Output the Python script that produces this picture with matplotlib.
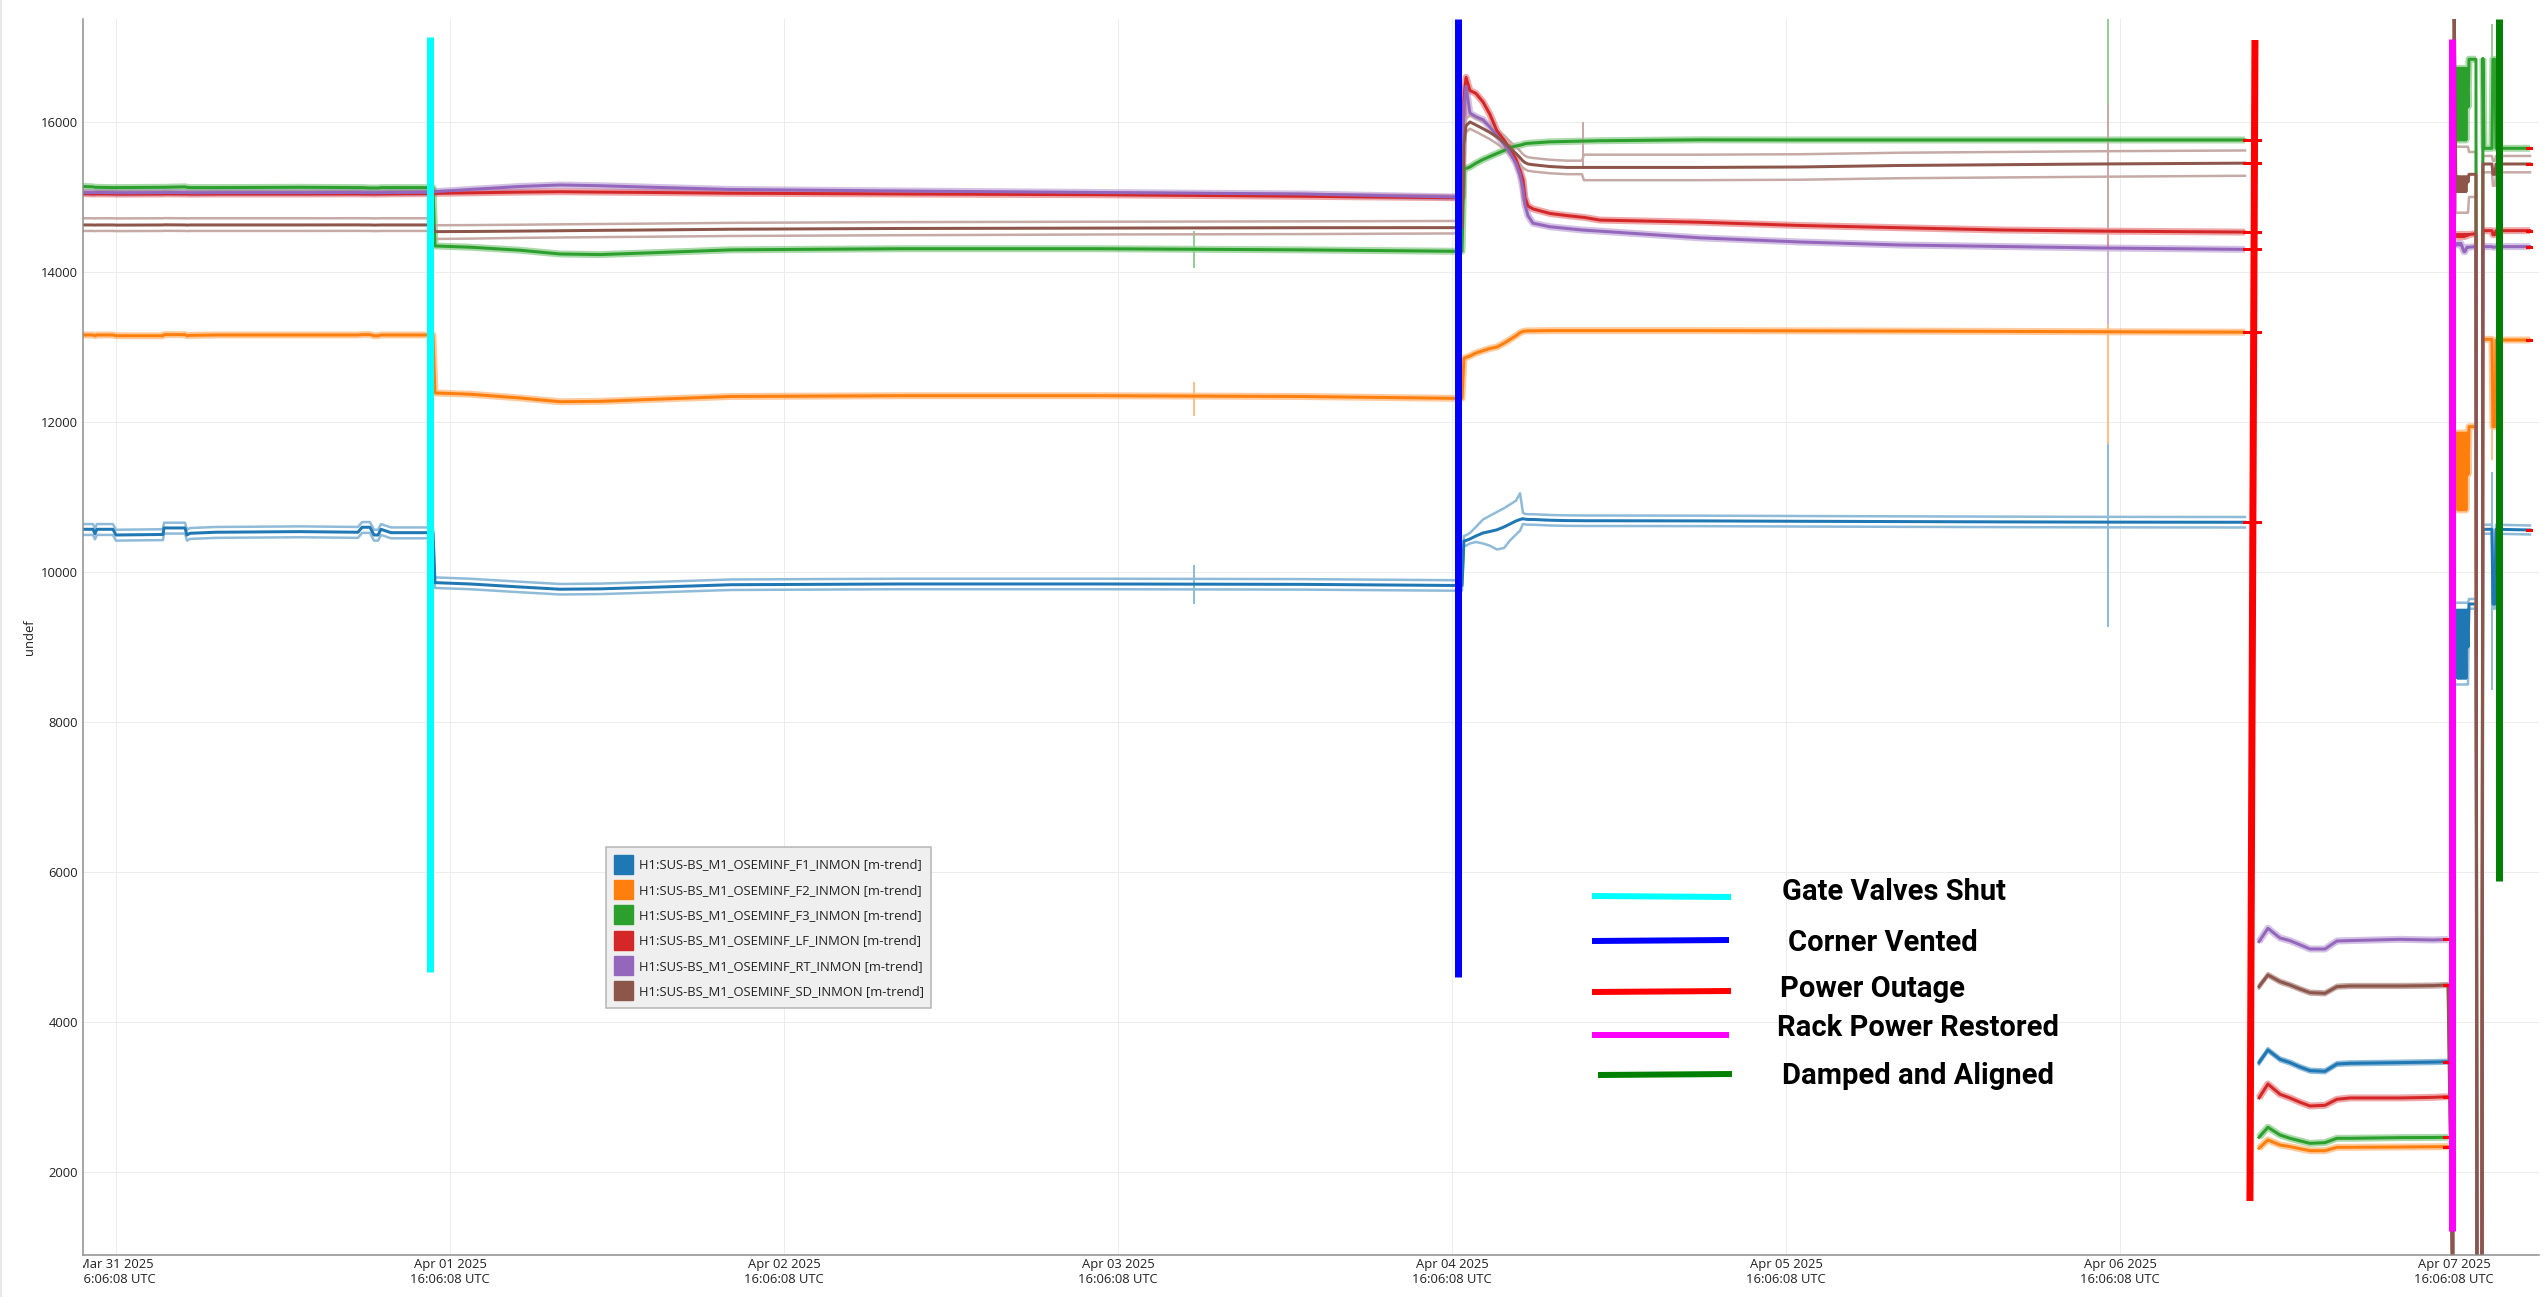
import numpy as np
import matplotlib
matplotlib.use("Agg")
import matplotlib.pyplot as plt
from matplotlib.patches import Patch, Rectangle
from matplotlib.lines import Line2D
from matplotlib.transforms import Bbox, TransformedBbox

nan = float("nan")

# ---------------- data (time in hours after Mar 31 2025 16:06:08 UTC) ----------------
hours = [-2.37, -1.65, -1.51, -1.37, -0.22, 0.00, 3.38, 3.45, 4.96, 5.10, 5.32, 7.19, 13.22, 17.39, 17.68,
         18.25, 18.54, 18.83, 19.04, 19.76, 22.42, 22.78,
         22.92, 25.44, 29.03, 31.90, 34.78, 38.37, 44.19, 56.33, 70.71, 85.08, 96.21, 96.72,
         96.86, 97.01, 97.29, 97.72, 98.23, 98.73, 99.23, 99.74, 100.17, 100.60, 100.89, 101.10, 101.24,
         101.46, 101.82, 103.04, 104.26, 105.34, 105.48, 106.63, 113.82, 121.01, 128.19, 135.38, 142.56, 152.98,
         153.50,
         153.99, 154.63, 155.50, 156.22, 156.93, 157.65, 158.73, 159.59, 160.53, 164.12, 166.49, 167.57,
         167.93, 168.00, 168.14, 168.22, 168.29, 168.36, 168.43, 168.50, 168.57, 168.65, 168.72, 168.79,
         168.86, 168.93, 169.01, 169.08, 169.58, 169.65, 170.01, 170.08, 170.16, 170.73, 170.80, 170.94,
         171.02, 173.46]

f1 = [10569, 10569, 10510, 10569, 10569, 10493, 10500, 10587, 10587, 10493, 10516, 10530, 10538, 10530, 10596,
      10596, 10493, 10493, 10569, 10524, 10524, 10524,
      9858, 9840, 9800, 9770, 9775, 9795, 9830, 9840, 9840, 9835, 9820, 9820,
      10413, 10420, 10440, 10480, 10520, 10540, 10562, 10600, 10640, 10680, 10700, 10710, 10705, 10700, 10700,
      10690, 10685, 10684, 10683, 10683, 10681, 10676, 10672, 10668, 10665, 10663,
      nan,
      3458, 3627, 3502, 3458, 3400, 3351, 3342, 3440, 3449, 3458, 3465, 3471,
      nan, nan, 8600, 9493, 8582, 9493, 8582, 9493, 8582, 9493, 8582, 9493, 8582, 9493, 9000,
      9573, 9573, 0, 0, 10569, 10569, 10569, 9573, 9573, 10569, 10560]
f1_hi = [10639, 10639, 10580, 10639, 10639, 10563, 10570, 10657, 10657, 10563, 10586, 10600, 10608, 10600, 10666,
         10666, 10563, 10563, 10639, 10594, 10594, 10594,
         9928, 9910, 9870, 9840, 9845, 9865, 9900, 9910, 9910, 9905, 9890, 9890,
         10480, 10490, 10520, 10600, 10700, 10750, 10800, 10850, 10900, 10950, 11050, 10790, 10775, 10770, 10770,
         10760, 10755, 10754, 10753, 10753, 10751, 10746, 10742, 10738, 10735, 10733,
         nan,
         3483, 3652, 3527, 3483, 3425, 3376, 3367, 3465, 3474, 3483, 3490, 3496,
         nan, nan, 9590, 9590, 9590, 9590, 9590, 9590, 9590, 9590, 9590, 9590, 9590, 9590, 9590,
         9640, 9640, 0, 0, 10630, 10630, 10630, 9640, 9640, 10630, 10620]
f1_lo = [10494, 10494, 10435, 10494, 10494, 10418, 10425, 10512, 10512, 10418, 10441, 10455, 10463, 10455, 10521,
         10521, 10418, 10418, 10494, 10449, 10449, 10449,
         9787, 9770, 9730, 9700, 9705, 9725, 9760, 9770, 9770, 9765, 9750, 9750,
         10345, 10350, 10380, 10400, 10380, 10350, 10300, 10320, 10420, 10500, 10550, 10640, 10635, 10630, 10630,
         10620, 10615, 10614, 10613, 10613, 10611, 10606, 10602, 10598, 10595, 10593,
         nan,
         3433, 3602, 3477, 3433, 3375, 3326, 3317, 3415, 3424, 3433, 3440, 3446,
         nan, nan, 8500, 8500, 8500, 8500, 8500, 8500, 8500, 8500, 8500, 8500, 8500, 8500, 8500,
         9510, 9510, 0, 0, 10510, 10510, 10510, 9510, 9510, 10510, 10500]
f2 = [13160, 13160, 13150, 13160, 13160, 13150, 13150, 13165, 13165, 13150, 13155, 13160, 13160, 13160, 13165,
      13165, 13150, 13150, 13160, 13160, 13160, 13160,
      12387, 12370, 12320, 12270, 12275, 12300, 12340, 12350, 12350, 12340, 12315, 12315,
      12850, 12860, 12880, 12920, 12950, 12980, 13000, 13050, 13100, 13150, 13190, 13207, 13212, 13215, 13215,
      13218, 13218, 13218, 13218, 13218, 13218, 13215, 13212, 13208, 13203, 13197,
      nan,
      2316, 2427, 2360, 2338, 2310, 2284, 2284, 2329, 2329, 2333, 2336, 2338,
      nan, nan, 10900, 11853, 10827, 11853, 10827, 11853, 10827, 11853, 10827, 11853, 10827, 11853, 11300,
      11938, 11938, 0, 0, 13102, 13102, 13102, 11938, 11938, 13093, 13093]
f3 = [15140, 15135, 15129, 15129, 15125, 15125, 15129, 15129, 15135, 15129, 15125, 15125, 15129, 15125, 15125,
      15120, 15120, 15120, 15125, 15125, 15125, 15125,
      14347, 14330, 14290, 14240, 14232, 14255, 14295, 14310, 14310, 14295, 14276, 14276,
      15376, 15380, 15400, 15450, 15500, 15540, 15580, 15620, 15660, 15680, 15690, 15700, 15710, 15715, 15720,
      15735, 15740, 15745, 15745, 15750, 15762, 15760, 15760, 15760, 15760, 15760,
      nan,
      2462, 2596, 2493, 2449, 2415, 2382, 2391, 2449, 2449, 2458, 2460, 2462,
      nan, nan, 15760, 16716, 15760, 16716, 15760, 16716, 15760, 16716, 15760, 16716, 15760, 16716, 16200,
      16836, 16836, 0, 0, 16849, 15649, 15649, 16836, 16836, 15649, 15649]
lf = [15045, 15040, 15040, 15042, 15040, 15038, 15040, 15042, 15040, 15040, 15038, 15040, 15040, 15042, 15040,
      15040, 15038, 15040, 15040, 15042, 15045, 15045,
      15049, 15055, 15065, 15070, 15065, 15060, 15050, 15040, 15030, 15010, 14990, 14990,
      16300, 16594, 16420, 16380, 16267, 16100, 15881, 15760, 15643, 15500, 15350, 15227, 14990, 14880, 14841,
      14780, 14752, 14730, 14728, 14692, 14663, 14620, 14590, 14560, 14545, 14532,
      nan,
      2987, 3173, 3036, 2987, 2930, 2880, 2889, 2969, 2987, 2987, 2995, 3004,
      nan, nan, 14480, 14500, 14470, 14500, 14470, 14500, 14470, 14500, 14470, 14500, 14480, 14500, 14490,
      14500, 14510, 0, 0, 14551, 14551, 14551, 14497, 14497, 14551, 14551]
rt = [15060, 15058, 15058, 15060, 15058, 15056, 15058, 15060, 15058, 15058, 15056, 15058, 15058, 15060, 15058,
      15058, 15056, 15058, 15058, 15060, 15062, 15062,
      15071, 15100, 15140, 15160, 15150, 15130, 15100, 15080, 15060, 15040, 15000, 15000,
      16200, 16475, 16119, 16070, 16030, 15930, 15822, 15700, 15584, 15450, 15300, 15109, 14900, 14752, 14650,
      14603, 14580, 14560, 14558, 14544, 14455, 14400, 14360, 14340, 14320, 14301,
      nan,
      5071, 5249, 5120, 5084, 5030, 4973, 4973, 5080, 5085, 5102, 5093, 5100,
      nan, nan, 14360, 14380, 14360, 14380, 14360, 14380, 14350, 14300, 14271, 14271, 14300, 14330, 14330,
      14330, 14340, 0, 0, 14338, 14338, 14338, 14330, 14330, 14338, 14338]
sd = [14627, 14627, 14625, 14627, 14627, 14625, 14627, 14629, 14627, 14625, 14627, 14627, 14627, 14628, 14627,
      14627, 14625, 14626, 14627, 14627, 14627, 14627,
      14538, 14540, 14545, 14550, 14555, 14560, 14570, 14580, 14585, 14590, 14591, 14591,
      15700, 15950, 16000, 15960, 15911, 15860, 15800, 15730, 15650, 15580, 15524, 15480, 15460, 15440, 15430,
      15406, 15394, 15394, 15394, 15394, 15394, 15400, 15420, 15430, 15440, 15451,
      nan,
      4471, 4627, 4538, 4493, 4440, 4391, 4382, 4471, 4480, 4480, 4485, 4493,
      0, 18000, 15071, 15271, 15071, 15271, 15071, 15271, 15071, 15271, 15071, 15271, 15071, 15271, 15200,
      15302, 15302, 0, 0, 15440, 15440, 15440, 15302, 15302, 15440, 15440]
sd_hi = [14716, 14716, 14714, 14716, 14716, 14714, 14716, 14718, 14716, 14714, 14716, 14716, 14716, 14717, 14716,
         14716, 14714, 14715, 14716, 14716, 14716, 14716,
         14623, 14625, 14630, 14635, 14640, 14645, 14655, 14665, 14670, 14675, 14680, 14680,
         15790, 16040, 16090, 16050, 16000, 15950, 15890, 15820, 15740, 15670, 15614, 15570, 15550, 15530, 15520,
         15496, 15484, 15484, 15564, 15564, 15564, 15570, 15590, 15600, 15610, 15620,
         nan,
         4496, 4652, 4563, 4518, 4465, 4416, 4407, 4496, 4505, 4505, 4510, 4518,
         0, 18000, 15670, 15670, 15670, 15670, 15670, 15670, 15670, 15670, 15670, 15670, 15670, 15670, 15670,
         15600, 15600, 0, 0, 15547, 15547, 15547, 15480, 15480, 15547, 15547]
sd_lo = [14547, 14547, 14545, 14547, 14547, 14545, 14547, 14549, 14547, 14545, 14547, 14547, 14547, 14548, 14547,
         14547, 14545, 14546, 14547, 14547, 14547, 14547,
         14440, 14445, 14455, 14460, 14465, 14470, 14480, 14490, 14500, 14505, 14514, 14514,
         15610, 15860, 15910, 15870, 15820, 15770, 15710, 15640, 15560, 15490, 15434, 15390, 15370, 15350, 15340,
         15316, 15304, 15304, 15224, 15224, 15224, 15230, 15250, 15260, 15270, 15283,
         nan,
         4446, 4602, 4513, 4468, 4415, 4366, 4357, 4446, 4455, 4455, 4460, 4468,
         0, 18000, 14790, 14790, 14790, 14790, 14790, 14790, 14790, 14790, 14790, 14790, 14790, 14790, 14790,
         15000, 15000, 0, 0, 15329, 15329, 15329, 15150, 15150, 15329, 15329]

channel_names = ["H1:SUS-BS_M1_OSEMINF_F1_INMON [m-trend]",
                 "H1:SUS-BS_M1_OSEMINF_F2_INMON [m-trend]",
                 "H1:SUS-BS_M1_OSEMINF_F3_INMON [m-trend]",
                 "H1:SUS-BS_M1_OSEMINF_LF_INMON [m-trend]",
                 "H1:SUS-BS_M1_OSEMINF_RT_INMON [m-trend]",
                 "H1:SUS-BS_M1_OSEMINF_SD_INMON [m-trend]"]

# short min/max glitches (hours, per-channel low/high)
spike_hours = [77.46, 105.41, 143.14, 170.73]
spike_lo = [[9573, nan, 9272, 8427], [12080, nan, 11711, 11493], [14053, nan, 15760, 15649],
            [nan, nan, 13309, nan], [nan, nan, 13309, nan], [nan, 15394, 14487, nan]]
spike_hi = [[10093, nan, 11853, 11336], [12533, nan, 13309, 12053], [14547, nan, 17500, 17300],
            [nan, nan, 14532, nan], [nan, nan, 14301, nan], [nan, 16000, 16253, nan]]

# segment end indices where the small red end marks sit, and their spans (hours)
end_index = [59, 72, 98]
end_span = [(152.91, 154.05), (167.29, 167.57), (173.24, 173.53)]

# hand-drawn event markers
event_labels = ["Gate Valves Shut", "Corner Vented", "Power Outage", "Rack Power Restored", "Damped and Aligned"]
event_colors = ["#00ffff", "#0000ff", "#ff0000", "#ff00ff", "#008000"]
event_hours_top = [22.56, 96.43, 153.70, 167.86, 171.23]
event_hours_bottom = [22.56, 96.43, 153.34, 167.86, 171.23]
event_top = [17133, 17373, 17093, 17107, 17373]
event_bottom = [4667, 4600, 1613, 1213, 5880]

tick_hours = [0, 24, 48, 72, 96, 120, 144, 168]
tick_labels = ["Mar 31 2025\n16:06:08 UTC", "Apr 01 2025\n16:06:08 UTC", "Apr 02 2025\n16:06:08 UTC",
               "Apr 03 2025\n16:06:08 UTC", "Apr 04 2025\n16:06:08 UTC", "Apr 05 2025\n16:06:08 UTC",
               "Apr 06 2025\n16:06:08 UTC", "Apr 07 2025\n16:06:08 UTC"]
y_ticks = [2000, 4000, 6000, 8000, 10000, 12000, 14000, 16000]

# ---------------- figure ----------------
plt.rcParams["font.family"] = ["Open Sans", "DejaVu Sans"]
W, H, DPI = 2548, 1297, 100
PX = 72.0 / DPI

fig = plt.figure(figsize=(W / DPI, H / DPI), dpi=DPI, facecolor="white")
AX_L, AX_R, AX_T, AX_B = 83, 2539, 19, 1255
ax = fig.add_axes([AX_L / W, 1 - AX_B / H, (AX_R - AX_L) / W, (AX_B - AX_T) / H])
YMIN, YMAX = 893, 17373
ax.set_xlim(-2.37, 174.11)
ax.set_ylim(YMIN, YMAX)
ax.set_facecolor("white")
fig.add_artist(Rectangle((0, 0), 2 / W, 1, transform=fig.transFigure, color="#e8e8e8", lw=0))

ax.grid(True, color="#ececec", lw=1 * PX)
ax.set_axisbelow(True)
for s in ("top", "right"):
    ax.spines[s].set_visible(False)
for s in ("left", "bottom"):
    ax.spines[s].set_color("#8c8c8c")
    ax.spines[s].set_linewidth(1.5 * PX)

colors = ["#1f77b4", "#ff7f0e", "#2ca02c", "#d62728", "#9467bd", "#8c564b"]
band_colors = ["#8fbbd9", "#ffbf86", "#95cf95", "#ea9393", "#c9b3de", "#c5aaa5"]
series = [f1, f2, f3, lf, rt, sd]
bands = {0: (f1_lo, f1_hi), 5: (sd_lo, sd_hi)}

t = np.array(hours, float)
for i, (vals, c, bc) in enumerate(zip(series, colors, band_colors)):
    v = np.array(vals, float)
    if i in bands:
        lo, hi = bands[i]
        ax.plot(t, np.array(lo, float), color=bc, lw=2.5 * PX, zorder=2)
        ax.plot(t, np.array(hi, float), color=bc, lw=2.5 * PX, zorder=2)
    else:
        # soft min/max envelope, only where the trace is on scale
        halo = np.where((v > YMIN) & (v < YMAX), v, np.nan)
        ax.plot(t, halo, color=c, lw=7 * PX, alpha=0.4, zorder=2, solid_capstyle="butt")
    for sh, a, b in zip(spike_hours, spike_lo[i], spike_hi[i]):
        if not (np.isnan(a) or np.isnan(b)):
            ax.vlines(sh, a, b, colors=bc, lw=2 * PX, zorder=2)
    ax.plot(t, v, color=c, lw=3 * PX, zorder=2.1)
    for idx, (x0, x1) in zip(end_index, end_span):
        ax.plot([x0, x1], [v[idx], v[idx]], color="#ff0000", lw=3 * PX, zorder=2.2)

for xt, xb, yt, yb, c in zip(event_hours_top, event_hours_bottom, event_top, event_bottom, event_colors):
    ax.plot([xb, xt], [yb, yt], color=c, lw=7 * PX, solid_capstyle="butt", zorder=4, clip_on=False)

ax.set_xticks(tick_hours)
ax.set_xticklabels(tick_labels)
ax.set_yticks(y_ticks)
ax.set_yticklabels([str(v) for v in y_ticks])
ax.tick_params(axis="both", length=0, labelsize=9.4, labelcolor="#222222")
ax.tick_params(axis="x", pad=2)
ax.tick_params(axis="y", pad=3.6)
clip = TransformedBbox(Bbox([[0, -1], [1, 1]]), ax.transAxes)
for lab in ax.get_xticklabels():
    lab.set_clip_box(clip)
    lab.set_clip_on(True)

ax.set_ylabel("undef", fontsize=9.4, color="#222222")
ax.yaxis.set_label_coords(-0.019, 0.5)

# channel legend
handles = [Patch(facecolor=c, edgecolor=c) for c in colors]
leg = ax.legend(handles, channel_names, loc="upper left", bbox_to_anchor=(606 / W, 1 - 847 / H),
                bbox_transform=fig.transFigure, frameon=True, fancybox=False, facecolor="#efefef",
                edgecolor="#b4b4b4", framealpha=1, prop={"family": "Open Sans", "size": 9.36},
                handlelength=1.46, handleheight=1.87, labelspacing=0.485, handletextpad=0.45,
                borderpad=0.6, borderaxespad=0)
leg.get_frame().set_linewidth(1.5 * PX)
for txt in leg.get_texts():
    txt.set_color("#222222")
leg.set_zorder(5)

# hand-drawn event key (figure pixel layout)
key_lines = [((1592, 896), (1731, 897)), ((1592, 941), (1729, 940)), ((1592, 992), (1731, 991)),
             ((1592, 1035), (1729, 1035)), ((1598, 1075), (1732, 1074))]
key_text = [(1782, 900), (1788, 951), (1780, 997), (1777, 1036), (1782, 1084)]
for (p0, p1), (tx, ty), lab, c in zip(key_lines, key_text, event_labels, event_colors):
    fig.add_artist(Line2D([p0[0] / W, p1[0] / W], [1 - p0[1] / H, 1 - p1[1] / H], transform=fig.transFigure,
                          color=c, lw=6 * PX, solid_capstyle="butt"))
    fig.text(tx / W, 1 - ty / H, lab, family="Roboto", weight="bold", size=21.0, ha="left", va="baseline",
             color="black")

fig.savefig("out.png", dpi=DPI, facecolor="white")
